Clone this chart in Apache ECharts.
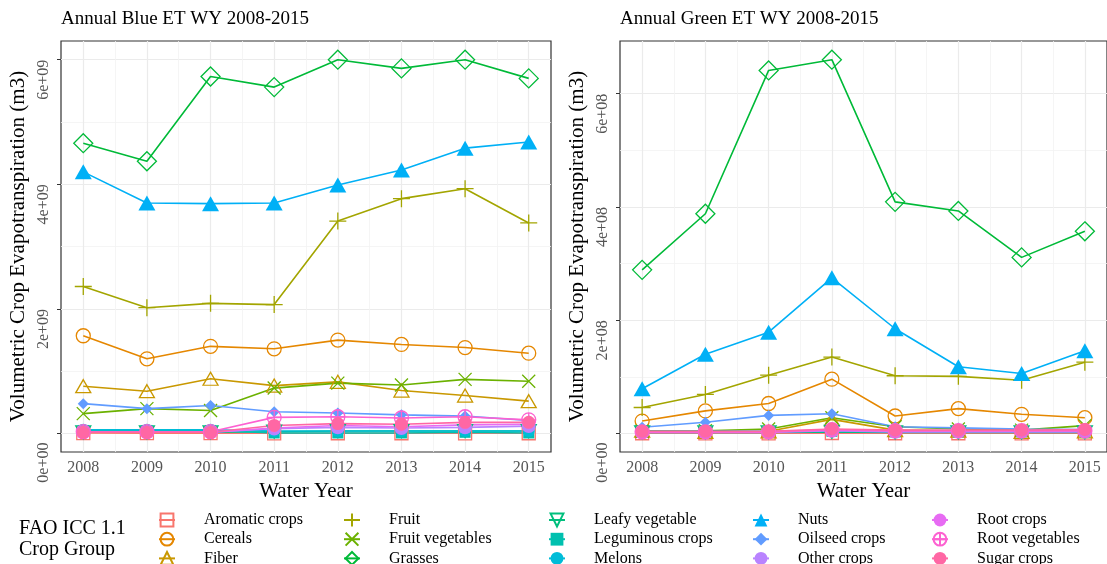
<!DOCTYPE html>
<html>
<head>
<meta charset="utf-8">
<script src="https://cdn.jsdelivr.net/npm/echarts@6/dist/echarts.min.js"></script>
<style>
  html, body { margin: 0; padding: 0; background: #fff; }
  #chart { width: 1107px; height: 564px; }
</style>
</head>
<body>
<div id="chart"></div>
<script>
// Water years on the x axis
const years = [2008, 2009, 2010, 2011, 2012, 2013, 2014, 2015];

// FAO ICC 1.1 crop groups (legend order)
const cropGroups = [
  'Aromatic crops', 'Cereals', 'Fiber', 'Fruit', 'Fruit vegetables',
  'Grasses', 'Leafy vegetable', 'Leguminous crops', 'Melons', 'Nuts',
  'Oilseed crops', 'Other crops', 'Root crops', 'Root vegetables', 'Sugar crops'
];

// Annual blue ET by crop group (m3)
const blueAromatic    = [0.008e9, 0.006e9, 0.007e9, 0.004e9, 0.005e9, 0.005e9, 0.004e9, 0.005e9];
const blueCereals     = [1.57e9, 1.20e9, 1.40e9, 1.36e9, 1.50e9, 1.43e9, 1.38e9, 1.29e9];
const blueFiber       = [0.76e9, 0.68e9, 0.88e9, 0.77e9, 0.83e9, 0.69e9, 0.61e9, 0.52e9];
const blueFruit       = [2.36e9, 2.02e9, 2.09e9, 2.07e9, 3.41e9, 3.77e9, 3.93e9, 3.38e9];
const blueFruitVeg    = [0.32e9, 0.40e9, 0.37e9, 0.73e9, 0.81e9, 0.78e9, 0.87e9, 0.84e9];
const blueGrasses     = [4.66e9, 4.37e9, 5.73e9, 5.56e9, 6.00e9, 5.86e9, 6.00e9, 5.70e9];
const blueLeafy       = [0.02e9, 0.02e9, 0.02e9, 0.03e9, 0.04e9, 0.04e9, 0.04e9, 0.04e9];
const blueLeguminous  = [0.05e9, 0.05e9, 0.05e9, 0.01e9, 0.01e9, 0.01e9, 0.02e9, 0.01e9];
const blueMelons      = [0.06e9, 0.06e9, 0.06e9, 0.04e9, 0.04e9, 0.04e9, 0.04e9, 0.04e9];
const blueNuts        = [4.20e9, 3.70e9, 3.69e9, 3.70e9, 3.99e9, 4.23e9, 4.58e9, 4.68e9];
const blueOilseed     = [0.48e9, 0.40e9, 0.45e9, 0.35e9, 0.33e9, 0.30e9, 0.28e9, 0.21e9];
const blueOther       = [0.02e9, 0.02e9, 0.02e9, 0.08e9, 0.10e9, 0.09e9, 0.10e9, 0.12e9];
const blueRootCrops   = [0.02e9, 0.02e9, 0.02e9, 0.09e9, 0.13e9, 0.11e9, 0.14e9, 0.15e9];
const blueRootVeg     = [0.03e9, 0.03e9, 0.03e9, 0.26e9, 0.27e9, 0.25e9, 0.27e9, 0.22e9];
const blueSugar       = [0.02e9, 0.02e9, 0.02e9, 0.13e9, 0.16e9, 0.15e9, 0.18e9, 0.18e9];

// Annual green ET by crop group (m3)
const greenAromatic   = [0.005e8, 0.004e8, 0.004e8, 0.010e8, 0.005e8, 0.005e8, 0.004e8, 0.004e8];
const greenCereals    = [0.22e8, 0.40e8, 0.53e8, 0.96e8, 0.31e8, 0.44e8, 0.34e8, 0.28e8];
const greenFiber      = [0.05e8, 0.03e8, 0.04e8, 0.25e8, 0.06e8, 0.05e8, 0.03e8, 0.04e8];
const greenFruit      = [0.46e8, 0.69e8, 1.03e8, 1.35e8, 1.02e8, 1.01e8, 0.94e8, 1.26e8];
const greenFruitVeg   = [0.04e8, 0.05e8, 0.08e8, 0.28e8, 0.12e8, 0.08e8, 0.06e8, 0.14e8];
const greenGrasses    = [2.89e8, 3.88e8, 6.41e8, 6.60e8, 4.09e8, 3.93e8, 3.11e8, 3.57e8];
const greenLeafy      = [0.02e8, 0.02e8, 0.02e8, 0.03e8, 0.02e8, 0.02e8, 0.02e8, 0.02e8];
const greenLeguminous = [0.03e8, 0.03e8, 0.03e8, 0.04e8, 0.03e8, 0.03e8, 0.03e8, 0.03e8];
const greenMelons     = [0.04e8, 0.04e8, 0.04e8, 0.05e8, 0.04e8, 0.04e8, 0.04e8, 0.04e8];
const greenNuts       = [0.79e8, 1.40e8, 1.79e8, 2.75e8, 1.85e8, 1.18e8, 1.06e8, 1.46e8];
const greenOilseed    = [0.11e8, 0.20e8, 0.32e8, 0.35e8, 0.12e8, 0.10e8, 0.08e8, 0.07e8];
const greenOther      = [0.02e8, 0.02e8, 0.02e8, 0.05e8, 0.03e8, 0.03e8, 0.03e8, 0.03e8];
const greenRootCrops  = [0.03e8, 0.03e8, 0.03e8, 0.06e8, 0.04e8, 0.04e8, 0.04e8, 0.04e8];
const greenRootVeg    = [0.03e8, 0.03e8, 0.03e8, 0.07e8, 0.05e8, 0.05e8, 0.05e8, 0.05e8];
const greenSugar      = [0.04e8, 0.04e8, 0.04e8, 0.08e8, 0.06e8, 0.06e8, 0.06e8, 0.07e8];

// Axis ticks and labels
const blueTickValues  = [0, 2e9, 4e9, 6e9];
const blueTickLabels  = ['0e+00', '2e+09', '4e+09', '6e+09'];
const blueMinorTicks  = [1e9, 3e9, 5e9];
const greenTickValues = [0, 2e8, 4e8, 6e8];
const greenTickLabels = ['0e+00', '2e+08', '4e+08', '6e+08'];
const greenMinorTicks = [1e8, 3e8, 5e8];
const yearMinorTicks  = [2008.5, 2009.5, 2010.5, 2011.5, 2012.5, 2013.5, 2014.5];

const blueSeries = [blueAromatic, blueCereals, blueFiber, blueFruit, blueFruitVeg, blueGrasses,
  blueLeafy, blueLeguminous, blueMelons, blueNuts, blueOilseed, blueOther, blueRootCrops,
  blueRootVeg, blueSugar];
const greenSeries = [greenAromatic, greenCereals, greenFiber, greenFruit, greenFruitVeg, greenGrasses,
  greenLeafy, greenLeguminous, greenMelons, greenNuts, greenOilseed, greenOther, greenRootCrops,
  greenRootVeg, greenSugar];

// Discrete hue palette, one colour per crop group
const palette = ['#F8766D', '#E58700', '#C99800', '#A3A500', '#6BB100', '#00BA38', '#00BF7D',
  '#00C0AF', '#00BCD8', '#00B0F6', '#619CFF', '#B983FF', '#E76BF3', '#FD61D1', '#FF67A4'];

const PLUS = 'path://M5,0 L5,10 M0,5 L10,5';
const CROSS = 'path://M0,0 L10,10 M0,10 L10,0';
const TRI_DOWN = 'path://M0,0 L10,0 L5,8.66 Z';
const CIRCLE_PLUS = 'path://M10,0 A10,10 0 1,1 10,20 A10,10 0 1,1 10,0 Z M10,0 L10,20 M0,10 L20,10';

// Marker shape per crop group: [symbol, size, outlined]
const markers = [
  ['rect', 13, true], ['circle', 14, true], ['triangle', [15, 13], true], [PLUS, 17, true],
  [CROSS, 13, true], ['diamond', 19, true], [TRI_DOWN, [15, 13], true], ['rect', 11, false],
  ['circle', 12, false], ['triangle', [17, 15], false], ['diamond', 11, false], ['circle', 14, false],
  ['circle', 9, false], [CIRCLE_PLUS, 14, true], ['circle', 13, false]
];

const FONT = '"Liberation Serif", "Times New Roman", serif';
const TICK_GREY = '#555';

function paddedRange(seriesList) {
  const all = seriesList.flat();
  const lo = Math.min(...all), hi = Math.max(...all);
  const pad = (hi - lo) * 0.05;
  return [lo - pad, hi + pad];
}

function buildSeries(values, xi, yi) {
  return cropGroups.map((name, i) => {
    const [symbol, size, open] = markers[i];
    return {
      name, type: 'line', xAxisIndex: xi, yAxisIndex: yi,
      data: years.map((yr, k) => [yr, values[i][k]]),
      symbol, symbolSize: size, showAllSymbol: true,
      lineStyle: { color: palette[i], width: 1.6 },
      itemStyle: open
        ? { color: 'rgba(0,0,0,0)', borderColor: palette[i], borderWidth: 1.3 }
        : { color: palette[i], borderWidth: 0 },
      emphasis: { disabled: true },
      silent: true, animation: false
    };
  });
}

function mainYAxis(gridIndex, range, tickValues, tickLabels) {
  return {
    type: 'value', gridIndex, min: range[0], max: range[1],
    axisLine: { show: false },
    axisTick: { show: true, length: 4, customValues: tickValues, lineStyle: { color: '#333', width: 1 } },
    axisLabel: {
      customValues: tickValues, rotate: 90, align: 'right', verticalAlign: 'bottom', margin: 9,
      fontFamily: FONT, fontSize: 16, color: TICK_GREY,
      formatter: v => {
        const t = tickLabels[tickValues.indexOf(v)];
        return v === 0 ? '{z|' + t + '}' : t;
      },
      rich: { z: { padding: [0, 9, 0, 0], fontFamily: FONT, fontSize: 16, color: TICK_GREY } }
    },
    splitLine: { show: true, lineStyle: { color: '#EBEBEB', width: 1.2 } },
    name: 'Volumetric Crop Evapotranspiration (m3)', nameLocation: 'middle', nameGap: 32,
    nameTextStyle: { fontFamily: FONT, fontSize: 21, color: '#000' }
  };
}

function minorYAxis(gridIndex, range, minorTicks) {
  return {
    type: 'value', gridIndex, min: range[0], max: range[1],
    axisLine: { show: false },
    axisTick: { show: false, customValues: minorTicks },
    axisLabel: { show: false, customValues: minorTicks },
    splitLine: { show: true, lineStyle: { color: '#F3F3F3', width: 0.8 } }
  };
}

function mainXAxis(gridIndex) {
  return {
    type: 'value', gridIndex, min: 2007.65, max: 2015.35,
    axisLine: { show: false },
    axisTick: { show: true, length: 4, customValues: years, lineStyle: { color: '#333', width: 1 } },
    axisLabel: {
      customValues: years, margin: 8, fontFamily: FONT, fontSize: 16, color: TICK_GREY,
      formatter: v => String(v)
    },
    splitLine: { show: true, lineStyle: { color: '#EBEBEB', width: 1.2 } },
    name: 'Water Year', nameLocation: 'middle', nameGap: 27,
    nameTextStyle: { fontFamily: FONT, fontSize: 21, color: '#000' }
  };
}

function minorXAxis(gridIndex) {
  return {
    type: 'value', gridIndex, min: 2007.65, max: 2015.35,
    axisLine: { show: false },
    axisTick: { show: false, customValues: yearMinorTicks },
    axisLabel: { show: false, customValues: yearMinorTicks },
    splitLine: { show: true, lineStyle: { color: '#F3F3F3', width: 0.8 } }
  };
}

const blueRange = paddedRange(blueSeries);
const greenRange = paddedRange(greenSeries);

// Legend laid out in five columns of three entries
const legendColumns = [0, 3, 6, 9, 12].map(k => cropGroups.slice(k, k + 3));
const legendLefts = [158, 343, 548, 752, 931];

const legends = legendColumns.map((names, c) => ({
  data: names, orient: 'vertical', left: legendLefts[c], top: 512, height: 120, padding: 0,
  itemWidth: 16, itemHeight: 16, itemGap: 3.2, selectedMode: false,
  textStyle: { fontFamily: FONT, fontSize: 16, color: '#000', padding: [0, 0, 0, 24] }
}));

const chart = echarts.init(document.getElementById('chart'), null, { renderer: 'canvas' });
chart.setOption({
  animation: false,
  backgroundColor: '#fff',
  grid: [
    { left: 61, top: 41, width: 490, height: 411, show: true, borderColor: '#333', borderWidth: 1.2, backgroundColor: '#fff' },
    { left: 620, top: 41, width: 490, height: 411, show: true, borderColor: '#333', borderWidth: 1.2, backgroundColor: '#fff' }
  ],
  xAxis: [mainXAxis(0), minorXAxis(0), mainXAxis(1), minorXAxis(1)],
  yAxis: [
    mainYAxis(0, blueRange, blueTickValues, blueTickLabels), minorYAxis(0, blueRange, blueMinorTicks),
    mainYAxis(1, greenRange, greenTickValues, greenTickLabels), minorYAxis(1, greenRange, greenMinorTicks)
  ],
  legend: legends,
  graphic: [
    { type: 'text', left: 61, top: 10, style: { text: 'Annual Blue ET WY 2008-2015', font: '19px ' + FONT, fill: '#000' } },
    { type: 'text', left: 620, top: 10, style: { text: 'Annual Green ET WY 2008-2015', font: '19px ' + FONT, fill: '#000' } },
    { type: 'text', left: 19, top: 518, style: { text: 'FAO ICC 1.1\nCrop Group', font: '20px ' + FONT, lineHeight: 21, fill: '#000' } }
  ],
  series: [...buildSeries(blueSeries, 0, 0), ...buildSeries(greenSeries, 2, 2)]
});
</script>
</body>
</html>
